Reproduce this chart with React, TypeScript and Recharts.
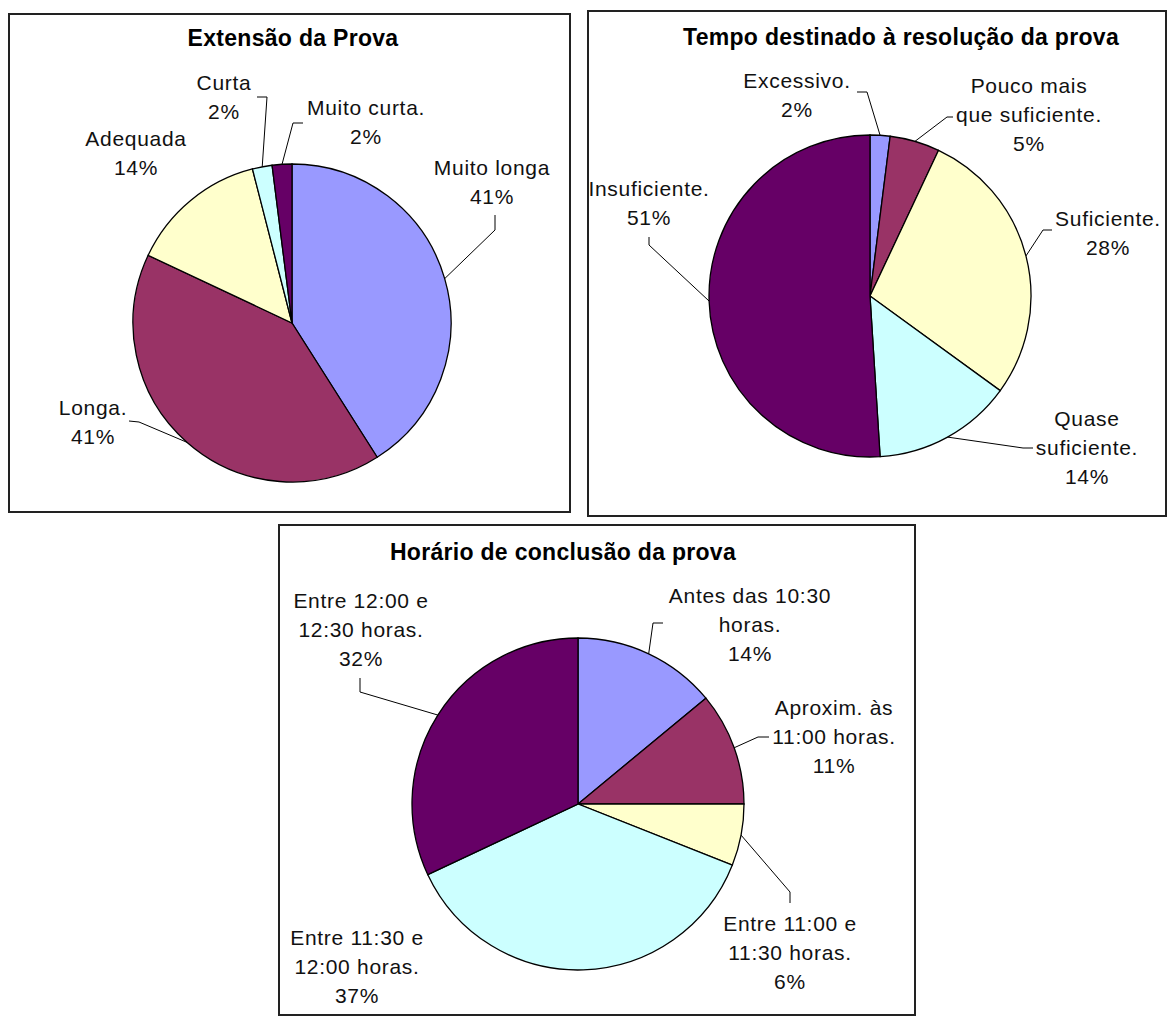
import { Cell, Pie, PieChart } from "recharts";

const sliceColors = ["#9999FF", "#993366", "#FFFFCC", "#CCFFFF", "#660066"];

// Extensão da Prova
const extensaoNames = ["Muito longa", "Longa.", "Adequada", "Curta", "Muito curta."];
const extensaoPct = [41, 41, 14, 2, 2];

// Tempo destinado à resolução da prova
const tempoNames = [
  "Excessivo.",
  "Pouco mais\nque suficiente.",
  "Suficiente.",
  "Quase\nsuficiente.",
  "Insuficiente.",
];
const tempoPct = [2, 5, 28, 14, 51];

// Horário de conclusão da prova
const horarioNames = [
  "Antes das 10:30\nhoras.",
  "Aproxim. às\n11:00 horas.",
  "Entre 11:00 e\n11:30 horas.",
  "Entre 11:30 e\n12:00 horas.",
  "Entre 12:00 e\n12:30 horas.",
];
const horarioPct = [14, 11, 6, 37, 32];

// label placement relative to the pie centre; lead = leader line elbow points
type Spot = { x: number; y: number; lead?: [number, number][] };

const extensaoSpots: Spot[] = [
  { x: 200, y: -156, lead: [[203, -108], [203, -93]] },
  { x: -199, y: 84, lead: [[-163, 98], [-153, 99]] },
  { x: -156, y: -185 },
  { x: -68, y: -241, lead: [[-35, -226], [-25, -226]] },
  { x: 74, y: -216, lead: [[11, -200], [1, -200]] },
];

const tempoSpots: Spot[] = [
  { x: -73, y: -216, lead: [[-13, -204], [-3, -204]] },
  { x: 159, y: -211, lead: [[83, -179], [77, -179]] },
  { x: 238, y: -78, lead: [[182, -66], [173, -66]] },
  { x: 217, y: 122, lead: [[163, 152], [153, 152]] },
  { x: -221, y: -108, lead: [[-221, -59], [-221, -51]] },
];

const horarioSpots: Spot[] = [
  { x: 172, y: -209, lead: [[85, -181], [75, -181]] },
  { x: 256, y: -97, lead: [[191, -67], [180, -67]] },
  { x: 212, y: 119, lead: [[212, 99], [212, 88]] },
  { x: -221, y: 133 },
  { x: -217, y: -204, lead: [[-218, -126], [-218, -112]] },
];

const RAD = Math.PI / 180;
const LINE_H = 29;
const font = '"Liberation Sans", Arial, sans-serif';

function makeLabel(names: string[], pct: number[], spots: Spot[]) {
  return (props: any) => {
    const { cx, cy, midAngle, outerRadius, index } = props;
    const spot = spots[index];
    const lines = [...names[index].split("\n"), `${pct[index]}%`];
    const ex = cx + outerRadius * Math.cos(-midAngle * RAD);
    const ey = cy + outerRadius * Math.sin(-midAngle * RAD);
    const pts = spot.lead
      ? [...spot.lead.map(([a, b]) => [cx + a, cy + b]), [ex, ey]]
      : null;
    return (
      <g>
        {pts && (
          <polyline
            points={pts.map((p) => p.join(",")).join(" ")}
            fill="none"
            stroke="#000"
            strokeWidth={1}
          />
        )}
        {lines.map((line, i) => (
          <text
            key={i}
            x={cx + spot.x}
            y={cy + spot.y + i * LINE_H}
            textAnchor="middle"
            dominantBaseline="central"
            fontSize={21}
            letterSpacing={0.7}
            fontFamily={font}
            fill="#111"
          >
            {line}
          </text>
        ))}
      </g>
    );
  };
}

type BoxProps = {
  left: number;
  top: number;
  width: number;
  height: number;
  title: string;
  titleX: number;
  titleY: number;
  cx: number;
  cy: number;
  r: number;
  names: string[];
  pct: number[];
  spots: Spot[];
};

function PieBox(p: BoxProps) {
  const data = p.names.map((name, i) => ({ name, value: p.pct[i] }));
  return (
    <div
      style={{
        position: "absolute",
        left: p.left,
        top: p.top,
        width: p.width,
        height: p.height,
        boxSizing: "border-box",
        border: "2px solid #222",
        background: "#fff",
        overflow: "hidden",
      }}
    >
      <div
        style={{
          position: "absolute",
          left: p.titleX,
          top: p.titleY,
          transform: "translate(-50%, -50%)",
          whiteSpace: "nowrap",
          fontFamily: font,
          fontWeight: "bold",
          fontSize: 23,
          letterSpacing: 0.3,
          lineHeight: 1,
          color: "#000",
        }}
      >
        {p.title}
      </div>
      <div style={{ position: "absolute", left: 0, top: 0 }}>
        <PieChart
          width={p.width - 4}
          height={p.height - 4}
          margin={{ top: 0, right: 0, bottom: 0, left: 0 }}
        >
          <Pie
            data={data}
            dataKey="value"
            nameKey="name"
            cx={p.cx}
            cy={p.cy}
            outerRadius={p.r}
            startAngle={90}
            endAngle={-270}
            stroke="#000"
            strokeWidth={1.3}
            label={makeLabel(p.names, p.pct, p.spots)}
            labelLine={false}
            isAnimationActive={false}
          >
            {data.map((_, i) => (
              <Cell key={i} fill={sliceColors[i]} stroke="#000" strokeWidth={1.3} />
            ))}
          </Pie>
        </PieChart>
      </div>
    </div>
  );
}

export default function App() {
  return (
    <div
      style={{
        position: "absolute",
        left: 0,
        top: 0,
        width: 1168,
        height: 1017,
        background: "#fff",
        overflow: "hidden",
      }}
    >
      <PieBox
        left={8}
        top={13}
        width={563}
        height={500}
        title="Extensão da Prova"
        titleX={283}
        titleY={23}
        cx={282}
        cy={308}
        r={159}
        names={extensaoNames}
        pct={extensaoPct}
        spots={extensaoSpots}
      />
      <PieBox
        left={587}
        top={10}
        width={580}
        height={507}
        title="Tempo destinado à resolução da prova"
        titleX={312}
        titleY={25}
        cx={281}
        cy={284}
        r={161}
        names={tempoNames}
        pct={tempoPct}
        spots={tempoSpots}
      />
      <PieBox
        left={278}
        top={524}
        width={638}
        height={492}
        title="Horário de conclusão da prova"
        titleX={283}
        titleY={26}
        cx={298}
        cy={278}
        r={166}
        names={horarioNames}
        pct={horarioPct}
        spots={horarioSpots}
      />
    </div>
  );
}
